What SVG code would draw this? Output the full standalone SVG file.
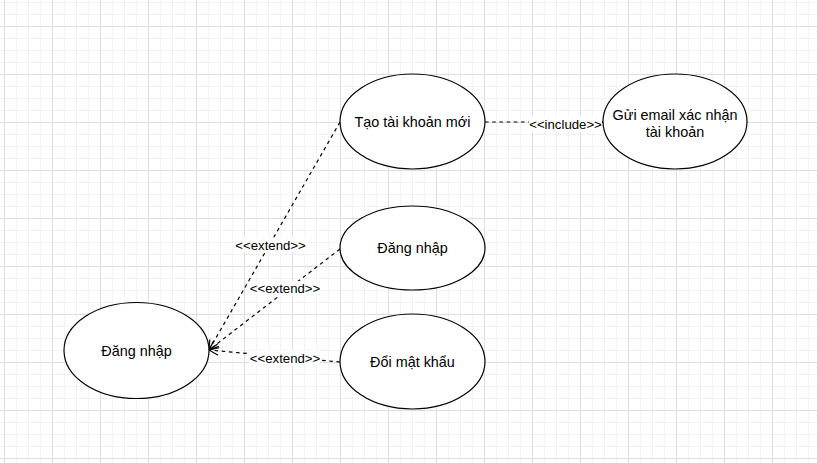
<svg xmlns="http://www.w3.org/2000/svg" width="817" height="463" viewBox="0 0 817 463">
  <defs>
    <!-- background grid: faint lines every 12px, stronger every 48px -->
    <pattern id="grid" patternUnits="userSpaceOnUse" x="4" y="26" width="48" height="48">
      <path d="M12.5,0V48M24.5,0V48M36.5,0V48M0,12.5H48M0,24.5H48M0,36.5H48" stroke="#f3f3f3" stroke-width="1" fill="none"/>
      <path d="M0.5,0V48M0,0.5H48" stroke="#dedede" stroke-width="1" fill="none"/>
    </pattern>
    <marker id="open" markerUnits="userSpaceOnUse" markerWidth="12" markerHeight="12" viewBox="0 0 12 12" refX="11" refY="6" orient="auto">
      <path d="M1.5,1.5 L11,6 L1.5,10.5" fill="none" stroke="#000" stroke-width="1.2"/>
    </marker>
    <style>
      .uc ellipse { fill: #fff; stroke: #000; stroke-width: 1.2; }
      .uc text { font-family: "Liberation Sans", Arial, Helvetica, sans-serif; font-size: 14.4px; fill: #000; text-anchor: middle; }
      .edge { fill: none; stroke: #000; stroke-width: 1.2; stroke-dasharray: 3.6 3.6; }
      .lbl rect { fill: #fff; }
      .lbl text { font-family: "Liberation Sans", Arial, Helvetica, sans-serif; font-size: 13.2px; fill: #000; text-anchor: middle; }
    </style>
  </defs>

  <rect width="817" height="463" fill="#fff"/>
  <rect width="817" height="463" fill="url(#grid)"/>

  <g id="connectors">
    <path class="edge" d="M340,122 L209,350" marker-end="url(#open)"/>
    <path class="edge" d="M340,249 L209,350" marker-end="url(#open)"/>
    <path class="edge" d="M340,362 L209,350" marker-end="url(#open)"/>
    <path class="edge" d="M485,122 L603,122" marker-end="url(#open)"/>
    <g class="lbl">
      <rect x="235.5" y="237.5" width="70" height="15"/>
      <text x="270.5" y="249.5">&lt;&lt;extend&gt;&gt;</text>
      <rect x="250" y="281" width="70" height="15"/>
      <text x="285" y="293">&lt;&lt;extend&gt;&gt;</text>
      <rect x="250" y="350.5" width="70" height="15"/>
      <text x="285" y="362.5">&lt;&lt;extend&gt;&gt;</text>
      <rect x="529" y="116.5" width="73" height="15"/>
      <text x="565.5" y="128.5">&lt;&lt;include&gt;&gt;</text>
    </g>
  </g>

  <g id="uc-tao-tai-khoan" class="uc">
    <ellipse cx="412.5" cy="121.5" rx="72.5" ry="47.5"/>
    <text x="412.5" y="126.5">Tạo tài khoản mới</text>
  </g>
  <g id="uc-gui-email" class="uc">
    <ellipse cx="675" cy="121.5" rx="72" ry="47.5"/>
    <text x="675" y="120">Gửi email xác nhận</text>
    <text x="675" y="137">tài khoản</text>
  </g>
  <g id="uc-dang-nhap-phu" class="uc">
    <ellipse cx="412.5" cy="248" rx="72.5" ry="42"/>
    <text x="412.5" y="253">Đăng nhập</text>
  </g>
  <g id="uc-doi-mat-khau" class="uc">
    <ellipse cx="412.5" cy="361.5" rx="72.5" ry="47.5"/>
    <text x="412.5" y="366.5">Đổi mật khẩu</text>
  </g>
  <g id="uc-dang-nhap" class="uc">
    <ellipse cx="136.5" cy="350.5" rx="72.5" ry="48"/>
    <text x="136.5" y="356">Đăng nhập</text>
  </g>
</svg>
